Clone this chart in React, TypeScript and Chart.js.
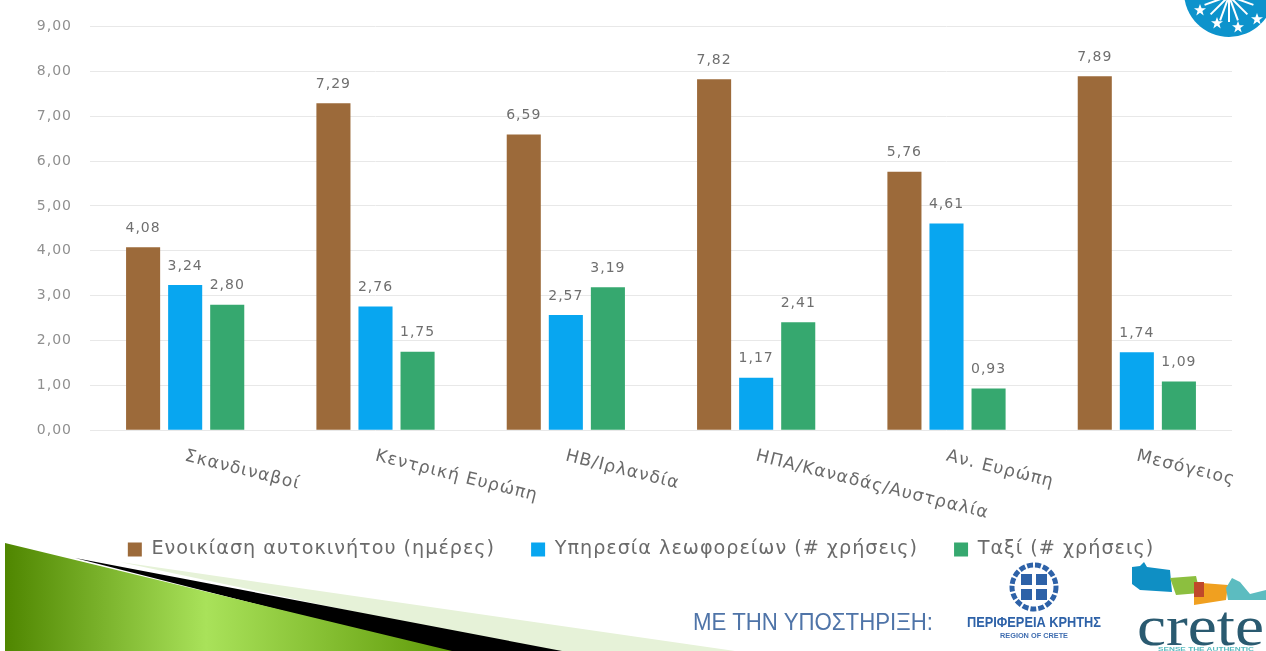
import React, { useEffect, useRef } from "react";
import { Chart, registerables } from "chart.js";

Chart.register(...registerables);

const categories = ["Σκανδιναβοί", "Κεντρική Ευρώπη", "ΗΒ/Ιρλανδία", "ΗΠΑ/Καναδάς/Αυστραλία", "Αν. Ευρώπη", "Μεσόγειος"];
const carRental = [4.08, 7.29, 6.59, 7.82, 5.76, 7.89];
const busService = [3.24, 2.76, 2.57, 1.17, 4.61, 1.74];
const taxi = [2.8, 1.75, 3.19, 2.41, 0.93, 1.09];
const seriesNames = ["Ενοικίαση αυτοκινήτου (ημέρες)", "Υπηρεσία λεωφορείων (# χρήσεις)", "Ταξί (# χρήσεις)"];
const seriesColors = ["#9C6A3A", "#08A6F0", "#36A86F"];

const FONT = '"DejaVu Sans", sans-serif';
const fmt = (v: number) => v.toFixed(2).replace(".", ",");

const labelsPlugin = {
  id: "labelsPlugin",
  beforeLayout(chart: any) {
    chart.ctx.letterSpacing = "1px";
  },
  afterLayout(chart: any) {
    chart.scales.y.left = 0;
  },
  afterDatasetsDraw(chart: any) {
    const ctx = chart.ctx;
    ctx.save();
    ctx.font = `14px ${FONT}`;
    ctx.fillStyle = "#6f6f6f";
    ctx.textAlign = "center";
    ctx.textBaseline = "middle";
    chart.data.datasets.forEach((ds: any, i: number) => {
      chart.getDatasetMeta(i).data.forEach((bar: any, j: number) => {
        ctx.fillText(fmt(ds.data[j]), bar.x, bar.y - 19);
      });
    });
    const xs = chart.scales.x;
    ctx.fillStyle = "#6a6a6a";
    ctx.font = `17.3px ${FONT}`;
    ctx.textAlign = "left";
    categories.forEach((c, i) => {
      ctx.save();
      ctx.translate(xs.getPixelForTick(i), 456);
      ctx.rotate((14 * Math.PI) / 180);
      ctx.fillText(c, 0, 0);
      ctx.restore();
    });
    ctx.restore();
  },
};

function Decor() {
  const stars = [[1200, 10], [1217, 23], [1238, 27], [1257, 19]];
  const rays = [-70, -45, -20, 0, 20, 45, 70];
  return (
    <svg width={1266} height={651} style={{ position: "absolute", left: 0, top: 0, pointerEvents: "none" }}>
      <defs>
        <linearGradient id="wedge" x1="0" x2="1" y1="0" y2="0">
          <stop offset="0" stopColor="#4f8600" />
          <stop offset="0.45" stopColor="#a9e25a" />
          <stop offset="1" stopColor="#5f9a08" />
        </linearGradient>
      </defs>
      <polygon points="120,562 735,651 540,651" fill="#e6f2d8" />
      <polygon points="75,558 562,651 440,651" fill="#000000" />
      <polygon points="5,543 452,651 5,651" fill="url(#wedge)" />

      <circle cx={1229} cy={-8} r={45} fill="#0d93cc" />
      {rays.map((a) => (
        <line key={a} x1={1229} y1={-4} x2={1229 + 26 * Math.sin((a * Math.PI) / 180)} y2={-4 + 26 * Math.cos((a * Math.PI) / 180)} stroke="#fff" strokeWidth={2} />
      ))}
      {stars.map(([x, y]) => (
        <polygon key={x} transform={`translate(${x},${y})`} points="0,-6 1.6,-1.8 6,-1.8 2.4,1 3.7,5.5 0,2.8 -3.7,5.5 -2.4,1 -6,-1.8 -1.6,-1.8" fill="#fff" />
      ))}

      <text x={693} y={630} fontFamily='"Liberation Sans Narrow", "Liberation Sans", sans-serif' fontSize={24} fill="#4f74a8" textLength={240} lengthAdjust="spacingAndGlyphs">ΜΕ ΤΗΝ ΥΠΟΣΤΗΡΙΞΗ:</text>

      <circle cx={1034} cy={587} r={22} fill="none" stroke="#2e62a8" strokeWidth={5} strokeDasharray="6 2" />
      <rect x={1021} y={574} width={11} height={11} fill="#2e62a8" />
      <rect x={1036} y={574} width={11} height={11} fill="#2e62a8" />
      <rect x={1021} y={589} width={11} height={11} fill="#2e62a8" />
      <rect x={1036} y={589} width={11} height={11} fill="#2e62a8" />
      <text x={967} y={627} fontFamily='"Liberation Sans Narrow", "Liberation Sans", sans-serif' fontWeight="bold" fontSize={15} fill="#2e62a8" textLength={134} lengthAdjust="spacingAndGlyphs">ΠΕΡΙΦΕΡΕΙΑ ΚΡΗΤΗΣ</text>
      <text x={1000} y={638} fontFamily='"Liberation Sans", sans-serif' fontWeight="bold" fontSize={7.5} fill="#3f6db0" textLength={68} lengthAdjust="spacingAndGlyphs">REGION OF CRETE</text>

      <polygon points="1132,567 1140,566 1144,562 1147,567 1170,570 1172,592 1140,590 1132,584" fill="#0f8fc4" />
      <polygon points="1170,578 1196,576 1200,593 1176,595" fill="#8cbf3f" />
      <polygon points="1202,583 1228,585 1226,600 1194,605 1194,596 1204,596" fill="#f0a020" />
      <polygon points="1194,582 1204,582 1204,597 1194,597" fill="#c0482a" />
      <polygon points="1226,588 1232,578 1240,582 1250,594 1266,590 1266,600 1228,600" fill="#5cbcc0" />
      <text x={1137} y={645} fontFamily='"Liberation Serif", serif' fontSize={56} fill="#2a5a70" textLength={127} lengthAdjust="spacingAndGlyphs">crete</text>
      <text x={1158} y={651} fontFamily='"Liberation Sans", sans-serif' fontWeight="bold" fontSize={6} fill="#5cbcc0" textLength={96} lengthAdjust="spacingAndGlyphs">SENSE THE AUTHENTIC</text>
    </svg>
  );
}

export default function App() {
  const ref = useRef<HTMLCanvasElement>(null);
  useEffect(() => {
    const chart = new Chart(ref.current!, {
      type: "bar",
      data: {
        labels: categories,
        datasets: [carRental, busService, taxi].map((data, i) => ({
          label: seriesNames[i],
          data,
          backgroundColor: seriesColors[i],
          barPercentage: 0.81,
          categoryPercentage: 0.663,
        })),
      },
      options: {
        responsive: false,
        animation: false,
        layout: { padding: { left: 50, right: 34, top: 25, bottom: 82 } },
        plugins: {
          title: { display: false },
          tooltip: { enabled: false },
          legend: {
            position: "bottom",
            labels: {
              boxWidth: 14,
              boxHeight: 14,
              padding: 36,
              color: "#6a6a6a",
              font: { family: FONT, size: 19.2 },
            },
          },
        },
        scales: {
          x: {
            grid: { display: false },
            border: { display: false },
            ticks: { display: false },
            afterFit: (s: any) => { s.height = 73.5; },
          },
          y: {
            min: 0,
            max: 9,
            grid: { color: "#e8e8e8", lineWidth: 1, tickLength: 0 },
            border: { display: false },
            ticks: {
              stepSize: 1,
              padding: 18,
              color: "#8f8f8f",
              font: { family: FONT, size: 14 },
              callback: (v: any) => fmt(Number(v)),
            },
            afterFit: (s: any) => { s.width = 40; },
          },
        },
      },
      plugins: [labelsPlugin],
    } as any);
    return () => chart.destroy();
  }, []);
  return (
    <div style={{ position: "absolute", left: 0, top: 0, width: 1266, height: 651, overflow: "hidden", background: "#fff", filter: "blur(0.6px)" }}>
      <canvas ref={ref} width={1266} height={651} style={{ position: "absolute", left: 0, top: 0 }} />
      <Decor />
    </div>
  );
}
